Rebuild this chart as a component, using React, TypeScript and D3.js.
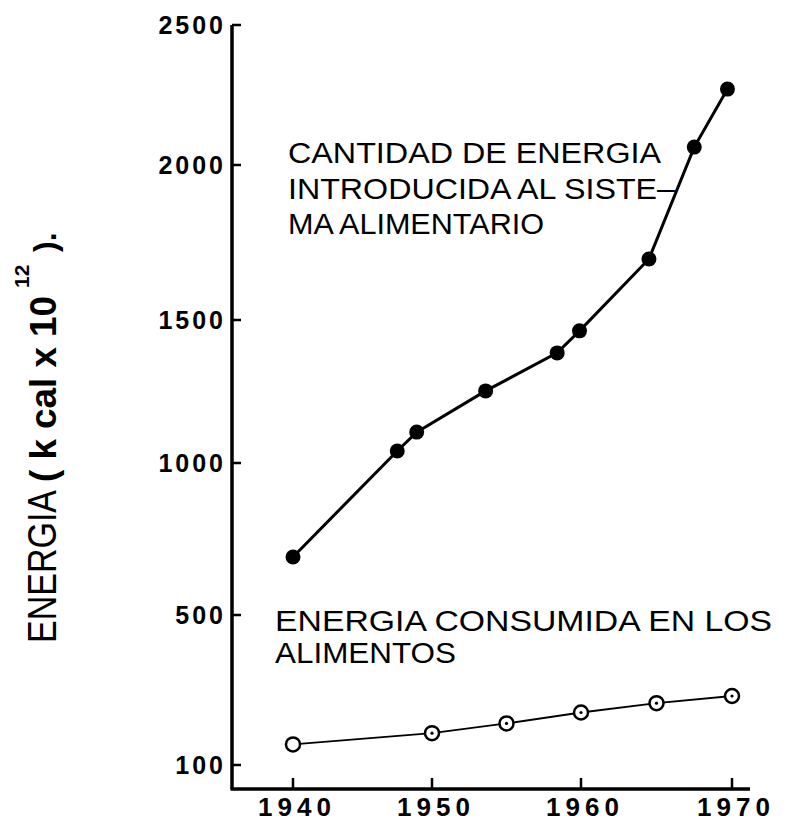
import React from "react";
import * as d3 from "d3";

// ---- data ----
const xTickYears = [1940, 1950, 1960, 1970];
const xTickLabels = ["1940", "1950", "1960", "1970"];
const yTickValues = [100, 500, 1000, 1500, 2000, 2500];
const yTickLabels = ["100", "500", "1000", "1500", "2000", "2500"];

const inputYears = [1940, 1947.5, 1948.9, 1953.6, 1958.4, 1959.9, 1964.5, 1967.5, 1969.7];
const inputEnergy = [691, 1042, 1108, 1252, 1385, 1462, 1697, 2064, 2271];

const foodYears = [1940, 1950, 1955, 1960, 1965, 1970];
const foodEnergy = [155, 185, 211, 240, 265, 284];

const inputLabelLines = ["CANTIDAD DE ENERGIA", "INTRODUCIDA AL SISTE\u2013", "MA ALIMENTARIO"];
const foodLabelLines = ["ENERGIA CONSUMIDA EN LOS", "ALIMENTOS"];

const W = 790;
const H = 836;

export default function App() {
  // hand-drawn axes: tick spacing is slightly uneven, so use polylinear scales
  const x = d3.scaleLinear().domain(xTickYears).range([293, 432, 581, 732]);
  const y = d3.scaleLinear().domain(yTickValues).range([765, 615, 463, 320, 165, 25]);

  const axisX = 232;
  const axisY = 789;
  const axisRight = 750;

  const line = d3
    .line<[number, number]>()
    .x((d) => x(d[0]))
    .y((d) => y(d[1]));

  const inputPts: [number, number][] = inputYears.map((yr, i) => [yr, inputEnergy[i]]);
  const foodPts: [number, number][] = foodYears.map((yr, i) => [yr, foodEnergy[i]]);

  const letterFont = "'Liberation Sans', Arial, sans-serif";
  const tickFont = "'Liberation Sans', Arial, sans-serif";

  const inputLabelWidths = [373, 387, 256];
  const foodLabelWidths = [497, 181];

  return (
    <svg
      width={W}
      height={H}
      viewBox={`0 0 ${W} ${H}`}
      style={{ position: "absolute", left: 0, top: 0, background: "#fff" }}
    >
      <rect x={0} y={0} width={W} height={H} fill="#fff" />

      {/* axes */}
      <line x1={axisX} y1={y(2500)} x2={axisX} y2={axisY} stroke="#000" strokeWidth={3.5} />
      <line x1={axisX - 1.5} y1={axisY} x2={axisRight} y2={axisY} stroke="#000" strokeWidth={3.5} />

      {/* y ticks */}
      {yTickValues.map((v, i) => (
        <g key={"yt" + v}>
          <line x1={axisX} x2={axisX + 9} y1={y(v)} y2={y(v)} stroke="#000" strokeWidth={2.5} />
          <text
            x={226}
            y={y(v)}
            dy="0.36em"
            textAnchor="end"
            fontFamily={tickFont}
            fontWeight="bold"
            fontSize={25}
            letterSpacing={3}
            fill="#000"
          >
            {yTickLabels[i]}
          </text>
        </g>
      ))}

      {/* x ticks */}
      {xTickYears.map((yr, i) => (
        <g key={"xt" + yr}>
          <line x1={x(yr)} x2={x(yr)} y1={axisY} y2={axisY - 11} stroke="#000" strokeWidth={2.5} />
          <text
            x={x(yr) + 4}
            y={816}
            textAnchor="middle"
            fontFamily={tickFont}
            fontWeight="bold"
            fontSize={26}
            letterSpacing={5}
            fill="#000"
          >
            {xTickLabels[i]}
          </text>
        </g>
      ))}

      {/* y axis title */}
      <text
        transform={`translate(56,643) rotate(-90)`}
        fontFamily={letterFont}
        fontSize={40}
        textLength={153}
        lengthAdjust="spacingAndGlyphs"
        fill="#000"
      >
        ENERGIA
      </text>
      <text
        transform={`translate(56,482) rotate(-90)`}
        fontFamily={tickFont}
        fontWeight="bold"
        fontSize={36}
        textLength={186}
        lengthAdjust="spacingAndGlyphs"
        fill="#000"
      >
        ( k cal x 10
      </text>
      <text
        transform={`translate(29,288) rotate(-90)`}
        fontFamily={tickFont}
        fontWeight="bold"
        fontSize={21}
        fill="#000"
      >
        12
      </text>
      <text
        transform={`translate(56,252) rotate(-90)`}
        fontFamily={tickFont}
        fontWeight="bold"
        fontSize={32}
        fill="#000"
      >
        ).
      </text>

      {/* series lines */}
      <path d={line(inputPts) || ""} fill="none" stroke="#000" strokeWidth={3} />
      <path d={line(foodPts) || ""} fill="none" stroke="#000" strokeWidth={2} />

      {/* input-energy markers */}
      {inputPts.map((d, i) => (
        <circle key={"ip" + i} cx={x(d[0])} cy={y(d[1])} r={7.5} fill="#000" />
      ))}

      {/* food-energy markers */}
      {foodPts.map((d, i) => (
        <g key={"fp" + i}>
          <circle cx={x(d[0])} cy={y(d[1])} r={7} fill="#fff" stroke="#000" strokeWidth={2.5} />
          {i > 0 && <circle cx={x(d[0])} cy={y(d[1])} r={1.6} fill="#000" />}
        </g>
      ))}

      {/* annotations */}
      {inputLabelLines.map((t, i) => (
        <text
          key={"il" + i}
          x={288}
          y={163 + i * 35.5}
          fontFamily={letterFont}
          fontSize={30}
          textLength={inputLabelWidths[i]}
          lengthAdjust="spacingAndGlyphs"
          fill="#000"
        >
          {t}
        </text>
      ))}
      {foodLabelLines.map((t, i) => (
        <text
          key={"fl" + i}
          x={275}
          y={631 + i * 32}
          fontFamily={letterFont}
          fontSize={30}
          textLength={foodLabelWidths[i]}
          lengthAdjust="spacingAndGlyphs"
          fill="#000"
        >
          {t}
        </text>
      ))}
    </svg>
  );
}
